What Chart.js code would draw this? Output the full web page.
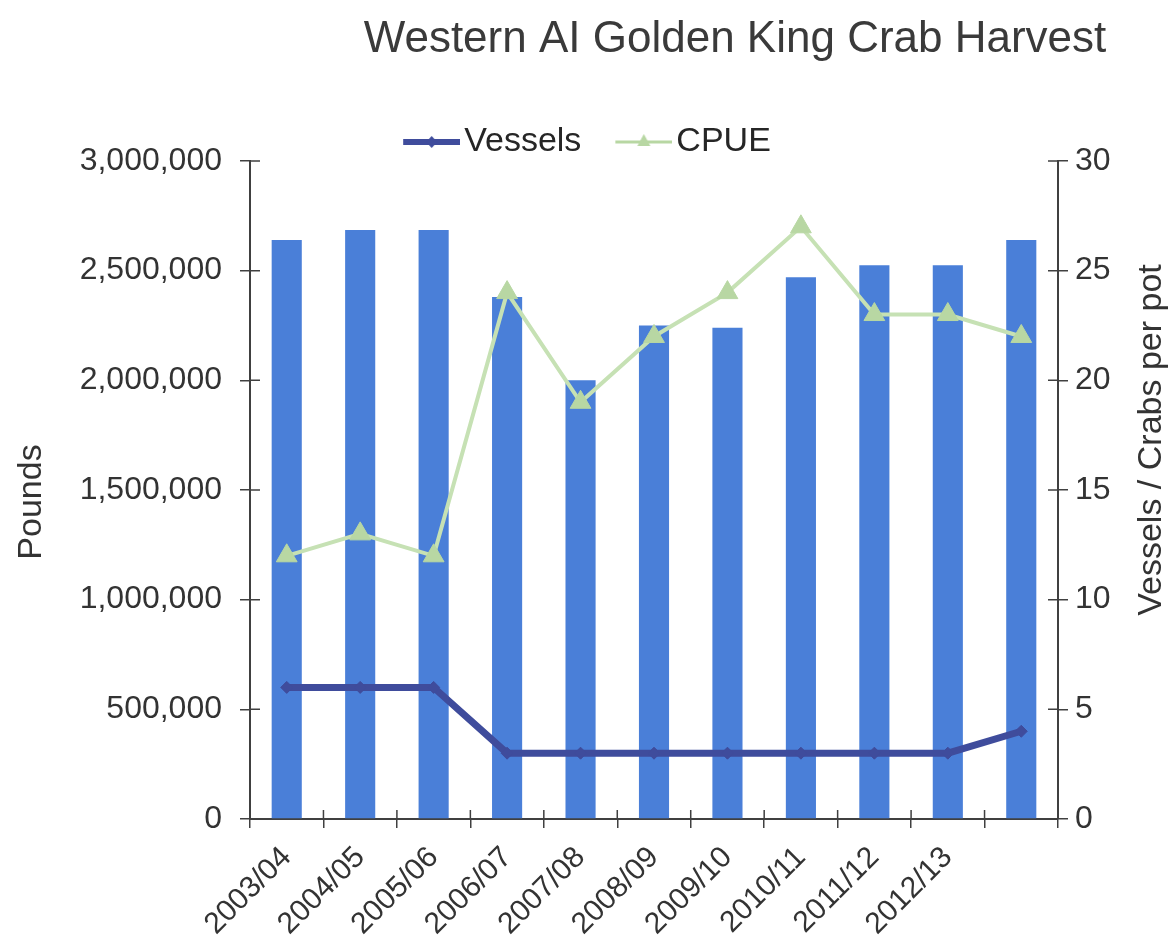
<!DOCTYPE html>
<html>
<head>
<meta charset="utf-8">
<title>Western AI Golden King Crab Harvest</title>
<script src="https://cdn.jsdelivr.net/npm/chart.js@4.4.1/dist/chart.umd.min.js"></script>
<style>
    html, body { margin: 0; padding: 0; background: #fff; }
    #wrap { width: 1174px; height: 942px; }
</style>
</head>
<body>
<div id="wrap"><canvas id="crab-chart" width="1174" height="942"></canvas></div>
<script>
// data
var seasons = ['2003/04', '2004/05', '2005/06', '2006/07', '2007/08', '2008/09',
               '2009/10', '2010/11', '2011/12', '2012/13', ''];
var pounds = [2640000, 2685000, 2685000, 2380000, 2000000, 2250000,
              2240000, 2470000, 2525000, 2525000, 2640000];
var vessels = [6, 6, 6, 3, 3, 3, 3, 3, 3, 3, 4];
var cpue = [12, 13, 12, 24, 19, 22, 24, 27, 23, 23, 22];
var poundsTicks = [0, 500000, 1000000, 1500000, 2000000, 2500000, 3000000];
var rightTicks = [0, 5, 10, 15, 20, 25, 30];

var FONT = "'Liberation Sans', Arial, Helvetica, sans-serif";
var axisColor = '#404040';
var textColor = '#333333';
var barColor = '#4a7fd8';
var vesselColor = '#3f4c9c';
var cpueLine = '#c6e1b4';
var cpueMark = '#b8d7a3';

// little picture of a line with its marker, used as legend symbol
function legendSample(color, lw, marker) {
    var c = document.createElement('canvas');
    c.width = 70;
    c.height = 24;
    var g = c.getContext('2d');
    g.strokeStyle = color;
    g.lineWidth = lw;
    g.beginPath();
    g.moveTo(13, 12);
    g.lineTo(70, 12);
    g.stroke();
    g.fillStyle = color;
    g.beginPath();
    if (marker == 'diamond') {
        g.moveTo(41.5, 6); g.lineTo(47, 12); g.lineTo(41.5, 18); g.lineTo(36, 12);
    } else {
        g.moveTo(41.5, 4); g.lineTo(48, 16); g.lineTo(35, 16);
    }
    g.closePath();
    g.fill();
    return c;
}

var samples = [legendSample(vesselColor, 6, 'diamond'), legendSample(cpueMark, 3, 'triangle')];

// title, rotated axis titles, and ticks that cross the axes
var decorations = {
    id: 'decorations',
    beforeLayout: function (chart) {
        var lg = chart.legend;
        if (lg && !lg._trimmed) {
            var fit = lg.fit;
            lg.fit = function () {
                fit.call(this);
                this.height -= 8;
            };
            lg._trimmed = true;
        }
    },
    afterDraw: function (chart) {
        var ctx = chart.ctx;
        var area = chart.chartArea;
        var x = chart.scales.x, y = chart.scales.y, y1 = chart.scales.y1;
        ctx.save();

        ctx.fillStyle = '#3a3a3a';
        ctx.font = '44px ' + FONT;
        ctx.textAlign = 'center';
        ctx.textBaseline = 'alphabetic';
        ctx.fillText('Western AI Golden King Crab Harvest', 735, 52);

        ctx.fillStyle = textColor;
        ctx.font = '34px ' + FONT;
        ctx.textBaseline = 'middle';
        ctx.save();
        ctx.translate(32, 502);
        ctx.rotate(-Math.PI / 2);
        ctx.fillText('Pounds', 0, 0);
        ctx.restore();
        ctx.save();
        ctx.translate(1152, 440);
        ctx.rotate(-Math.PI / 2);
        ctx.fillText('Vessels / Crabs per pot', 0, 0);
        ctx.restore();

        ctx.strokeStyle = axisColor;
        ctx.lineWidth = 1.5;
        ctx.beginPath();
        y.ticks.forEach(function (t) {
            var py = y.getPixelForValue(t.value);
            ctx.moveTo(area.left, py);
            ctx.lineTo(area.left + 10, py);
        });
        y1.ticks.forEach(function (t) {
            var py = y1.getPixelForValue(t.value);
            ctx.moveTo(area.right, py);
            ctx.lineTo(area.right - 10, py);
        });
        for (var i = 0; i <= seasons.length; i++) {
            var px;
            if (i == 0) px = area.left;
            else if (i == seasons.length) px = area.right;
            else px = (x.getPixelForValue(i - 1) + x.getPixelForValue(i)) / 2;
            ctx.moveTo(px, area.bottom);
            ctx.lineTo(px, area.bottom - 9);
        }
        ctx.stroke();
        ctx.restore();
    }
};

var ctx = document.getElementById('crab-chart').getContext('2d');
var crabChart = new Chart(ctx, {
    type: 'bar',
    data: {
        labels: seasons,
        datasets: [{
            type: 'line',
            label: 'Vessels',
            data: vessels,
            yAxisID: 'y1',
            borderColor: vesselColor,
            backgroundColor: vesselColor,
            borderWidth: 7,
            pointStyle: 'rectRot',
            pointRadius: 6,
            pointBorderWidth: 1,
            tension: 0,
            order: 1
        }, {
            type: 'line',
            label: 'CPUE',
            data: cpue,
            yAxisID: 'y1',
            borderColor: cpueLine,
            backgroundColor: cpueMark,
            pointBorderColor: cpueMark,
            borderWidth: 4,
            pointStyle: 'triangle',
            pointRadius: 12,
            pointBorderWidth: 1,
            tension: 0,
            order: 2
        }, {
            label: 'Pounds',
            data: pounds,
            yAxisID: 'y',
            backgroundColor: barColor,
            categoryPercentage: 1,
            barPercentage: 0.41,
            order: 3
        }]
    },
    options: {
        responsive: false,
        animation: false,
        layout: { padding: { top: 91, left: 0, right: 0, bottom: 0 } },
        plugins: {
            title: { display: false },
            tooltip: { enabled: false },
            legend: {
                position: 'top',
                labels: {
                    usePointStyle: true,
                    pointStyleWidth: 44,
                    padding: 34,
                    color: '#262626',
                    font: { family: FONT, size: 34 },
                    generateLabels: function (chart) {
                        var items = Chart.defaults.plugins.legend.labels.generateLabels(chart);
                        return items.filter(function (it) {
                            return it.datasetIndex < 2;
                        }).map(function (it) {
                            it.pointStyle = samples[it.datasetIndex];
                            return it;
                        });
                    }
                }
            }
        },
        scales: {
            x: {
                offset: true,
                afterFit: function (scale) { scale.height = 123; },
                border: { color: axisColor, width: 2 },
                grid: { offset: true, drawOnChartArea: false, tickLength: 9, color: axisColor, lineWidth: 1.5 },
                ticks: {
                    autoSkip: false,
                    maxRotation: 45,
                    minRotation: 45,
                    padding: 12,
                    color: textColor,
                    font: { family: FONT, size: 30 }
                }
            },
            y: {
                position: 'left',
                min: 0,
                max: 3000000,
                afterFit: function (scale) { scale.width = 250; },
                afterBuildTicks: function (scale) {
                    scale.ticks = poundsTicks.map(function (v) { return { value: v }; });
                },
                border: { color: axisColor, width: 2 },
                grid: { drawOnChartArea: false, tickLength: 10, color: axisColor, lineWidth: 1.5 },
                ticks: {
                    padding: 18,
                    color: textColor,
                    font: { family: FONT, size: 32 },
                    callback: function (v) { return v.toLocaleString('en-US'); }
                }
            },
            y1: {
                position: 'right',
                min: 0,
                max: 30,
                afterFit: function (scale) { scale.width = 116; },
                afterBuildTicks: function (scale) {
                    scale.ticks = rightTicks.map(function (v) { return { value: v }; });
                },
                border: { color: axisColor, width: 2 },
                grid: { drawOnChartArea: false, tickLength: 10, color: axisColor, lineWidth: 1.5 },
                ticks: {
                    padding: 7,
                    color: textColor,
                    font: { family: FONT, size: 32 }
                }
            }
        }
    },
    plugins: [decorations]
});
</script>
</body>
</html>
